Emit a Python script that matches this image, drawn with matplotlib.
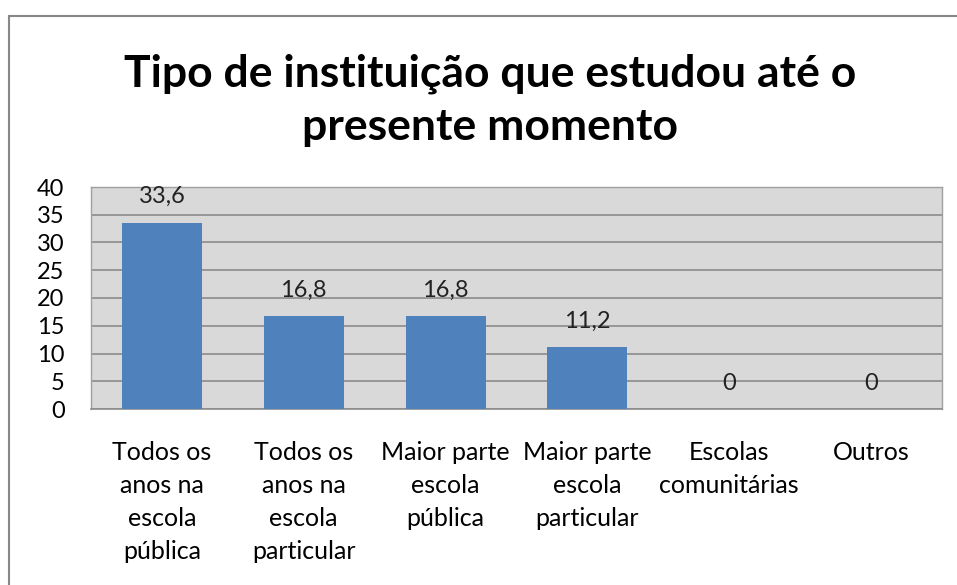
import matplotlib.pyplot as plt
from matplotlib.patches import Rectangle

# data
categorias = ["Todos os\nanos na\nescola\npública",
              "Todos os\nanos na\nescola\nparticular",
              "Maior parte\nescola\npública",
              "Maior parte\nescola\nparticular",
              "Escolas\ncomunitárias",
              "Outros"]
valores = [33.6, 16.8, 16.8, 11.2, 0, 0]
rotulos = ["33,6", "16,8", "16,8", "11,2", "0", "0"]
y_ticks = [0, 5, 10, 15, 20, 25, 30, 35, 40]

plt.rcParams['font.family'] = ['Lato', 'DejaVu Sans']

W, H = 957, 585
fig = plt.figure(figsize=(W / 100, H / 100), dpi=100)

# outer chart frame
fig.patches.append(Rectangle((9 / W, -0.05), 1.1, (H - 16) / H + 0.05,
                             transform=fig.transFigure, fill=False,
                             edgecolor='#878787', linewidth=1.5))

ax = fig.add_axes([91 / W, (H - 409) / H, (942 - 91) / W, (409 - 187) / H])
ax.set_facecolor('#d9d9d9')

x = range(len(categorias))
ax.bar(x, valores, width=0.565, color='#4f81bd', zorder=3)
ax.set_xlim(-0.5, len(categorias) - 0.5)
ax.set_ylim(0, 40)

ax.set_yticks(y_ticks)
ax.yaxis.grid(True, color='#8c8c8c', linewidth=1.2, zorder=1)
ax.set_axisbelow(True)

for xi, v, r in zip(x, valores, rotulos):
    ax.annotate(r, (xi, v), xytext=(0, 11), textcoords='offset points',
                ha='center', va='bottom', fontsize=17, color='#222222', zorder=4)

ax.set_xticks(list(x))
ax.set_xticklabels(categorias, fontsize=18, linespacing=1.52, va='top')
ax.tick_params(axis='x', length=0, pad=23)
ax.tick_params(axis='y', length=0, labelsize=17, pad=19)
for t in ax.get_yticklabels():
    t.set_horizontalalignment('right')

for s in ['top', 'right', 'left']:
    ax.spines[s].set_color('#a0a0a0')
    ax.spines[s].set_linewidth(1)
ax.spines['bottom'].set_color('#8c8c8c')
ax.spines['bottom'].set_linewidth(1.2)

fig.text(490 / W, 1 - 100 / H,
         "Tipo de instituição que estudou até o\npresente momento",
         ha='center', va='center', fontsize=32, fontweight='bold',
         linespacing=1.38)

fig.savefig('out.png', dpi=100)
